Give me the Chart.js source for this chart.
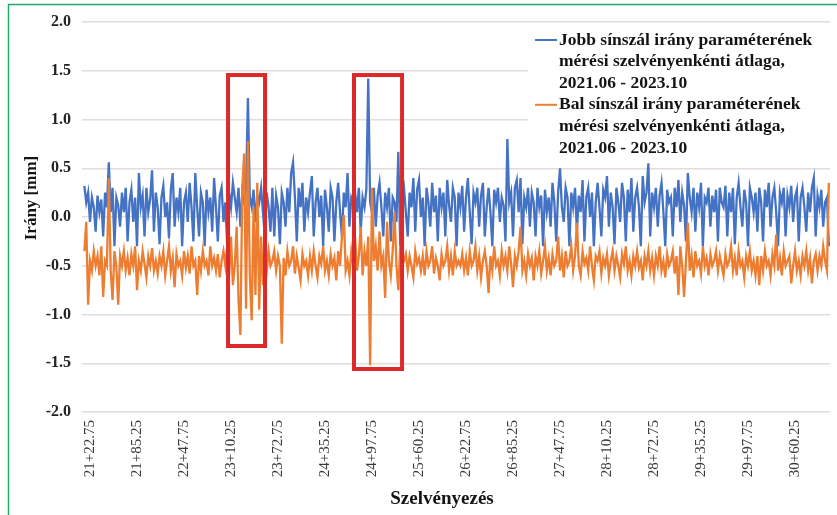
<!DOCTYPE html>
<html><head><meta charset="utf-8">
<script src="https://cdn.jsdelivr.net/npm/chart.js@4/dist/chart.umd.min.js"></script>
<style>html,body{margin:0;padding:0;background:#fff;}#wrap{position:relative;width:837px;height:515px;}canvas{display:block;}</style>
</head><body><div id="wrap"><canvas id="c" width="837" height="515"></canvas></div>
<script>
// Tick labels of the chainage axis (km+m style: "21+22.75" = 2122.75 m)
const tickLabels = ["21+22.75","21+85.25","22+47.75","23+10.25","23+72.75","24+35.25","24+97.75","25+60.25","26+22.75","26+85.25","27+47.75","28+10.25","28+72.75","29+35.25","29+97.75","30+60.25"];
// Measurement sections: first section chainage and section length (m)
const chainageStart = 2115.25;
const chainageStep = 2.5;
// Series names (legend lines)
const seriesNames = [
  ["Jobb sínszál irány paraméterének","mérési szelvényenkénti átlaga,","2021.06 - 2023.10"],
  ["Bal sínszál irány paraméterének","mérési szelvényenkénti átlaga,","2021.06 - 2023.10"]
];
// Right rail (Jobb) values [mm]
const rightRail = [
0.32,0.15,0.25,-0.05,0.2,0.1,-0.15,0.22,0.05,0.18,-0.2,0.25,0.1,0.56,0.05,0.3,-0.3,0.2,0.12,-0.1,
0.25,0.05,0.3,-0.25,0.15,0.28,-0.05,0.2,-0.3,0.45,0.1,0.22,-0.2,0.3,0.05,0.18,0.48,-0.15,0.25,0.1,
-0.28,0.2,0.32,0.0,0.15,-0.22,0.28,0.45,-0.1,0.2,0.05,0.3,-0.3,0.15,0.25,-0.05,0.35,0.1,-0.25,0.45,
0.1,-0.2,0.25,0.15,-0.3,0.28,0.05,0.2,-0.15,0.4,0.1,-0.25,0.22,0.3,-0.05,0.15,-0.3,0.25,0.1,0.35,
0.2,0.05,0.3,-0.1,0.25,0.15,0.3,1.22,0.2,0.1,0.28,-0.05,0.22,0.15,0.3,0.05,-0.2,0.25,0.1,-0.15,
0.3,-0.2,0.22,0.1,-0.28,0.25,0.15,-0.1,0.3,0.05,0.45,0.56,0.2,-0.25,0.3,0.1,0.35,-0.15,0.2,0.05,
0.25,0.42,-0.2,0.15,0.3,0.0,0.22,-0.3,0.28,0.1,-0.15,0.3,0.2,-0.25,0.15,0.35,0.05,-0.2,0.25,0.1,
0.45,-0.1,0.2,0.15,0.25,0.05,0.3,-0.15,0.2,0.1,0.28,1.42,0.15,0.05,0.3,-0.1,0.22,0.35,0.1,-0.2,
0.25,0.1,0.3,-0.25,0.2,0.15,-0.05,0.67,-0.3,0.2,0.3,0.05,-0.2,0.25,0.1,0.4,-0.15,0.28,0.38,0.0,
0.2,-0.3,0.3,0.15,-0.1,0.35,0.05,0.22,-0.25,0.3,0.1,0.25,-0.2,0.38,0.12,-0.05,0.3,0.2,-0.3,0.25,
0.1,0.32,-0.15,0.2,0.4,0.05,-0.28,0.25,0.15,0.3,-0.1,0.22,0.35,-0.2,0.1,0.3,0.05,-0.3,0.28,0.15,
0.3,-0.05,0.2,0.12,-0.25,0.8,0.15,0.25,-0.2,0.3,0.38,0.05,0.4,-0.28,0.2,0.1,0.3,-0.1,0.25,0.15,
-0.2,0.3,0.1,0.22,-0.3,0.28,0.05,0.2,-0.1,0.35,0.15,-0.25,0.25,0.5,0.1,-0.05,0.3,0.2,-0.3,0.25,
0.1,0.3,-0.15,0.22,0.05,0.38,-0.25,0.2,0.3,0.0,0.25,-0.3,0.15,0.35,0.1,-0.2,0.28,0.2,0.42,-0.1,
0.25,0.1,-0.28,0.3,0.15,-0.05,0.35,0.2,-0.25,0.28,0.05,0.4,-0.15,0.2,0.3,0.1,-0.3,0.42,0.15,0.25,
0.55,-0.2,0.25,0.1,0.3,-0.1,0.22,0.35,0.05,-0.3,0.28,0.15,0.2,-0.2,0.3,0.1,0.38,-0.05,0.25,0.12,
-0.25,0.45,0.2,0.05,0.3,-0.15,0.25,0.1,0.35,-0.3,0.2,0.15,0.3,-0.1,0.22,0.05,0.28,-0.25,0.3,0.15,
0.1,0.32,-0.2,0.25,0.05,0.3,-0.28,0.2,0.35,0.1,-0.1,0.28,0.15,-0.3,0.3,0.2,0.05,0.25,-0.15,0.3,
0.15,-0.25,0.28,0.1,0.35,-0.1,0.2,0.3,0.05,-0.3,0.25,0.15,0.3,-0.2,0.22,0.1,0.32,-0.05,0.2,0.28,
-0.25,0.2,0.3,0.1,-0.15,0.25,0.05,0.3,0.4,-0.2,0.22,0.1,0.28,-0.1,0.15,0.2,-0.3
];
// Left rail (Bal) values [mm]
const leftRail = [
-0.35,-0.05,-0.9,-0.45,-0.55,-0.35,-0.5,-0.4,-0.6,-0.3,-0.82,-0.45,-0.5,0.4,-0.55,-0.85,-0.35,-0.5,-0.9,-0.4,
-0.5,-0.35,-0.55,-0.42,-0.6,-0.38,-0.5,-0.3,-0.75,-0.45,-0.55,-0.35,-0.48,-0.62,-0.4,-0.5,-0.32,-0.55,-0.45,-0.58,
-0.4,-0.5,-0.35,-0.6,-0.45,-0.3,-0.55,-0.42,-0.72,-0.38,-0.5,-0.45,-0.6,-0.35,-0.52,-0.4,-0.58,-0.3,-0.5,-0.45,
-0.8,-0.4,-0.55,-0.35,-0.5,-0.45,-0.6,-0.3,-0.5,-0.42,-0.55,-0.38,-0.62,-0.45,-0.35,-0.5,-0.3,-0.6,-0.2,-0.7,
-0.5,-0.1,-0.85,-1.21,0.3,0.65,-0.94,0.78,-0.6,-1.06,0.1,-0.8,0.35,-0.95,-0.2,-0.7,-0.4,-0.55,-0.35,-0.5,
-0.45,-0.35,-0.55,-0.4,-0.5,-1.3,-0.42,-0.6,-0.35,-0.5,-0.45,-0.3,-0.58,-0.4,-0.52,-0.65,-0.38,-0.5,-0.45,-0.6,
-0.4,-0.55,-0.35,-0.5,-0.62,-0.4,-0.48,-0.3,-0.55,-0.45,-0.6,-0.38,-0.5,-0.42,-0.65,-0.35,-0.5,-0.2,0.02,-0.55,
-0.45,-0.6,-0.35,-0.5,-0.2,-0.55,-0.4,-0.1,-0.6,-0.35,-0.5,-0.2,-1.52,0.3,-0.45,-0.3,-0.55,-0.15,-0.5,-0.4,
-0.83,-0.05,-0.45,-0.6,-0.35,0.05,-0.5,-0.75,-0.3,-0.5,-0.45,-0.38,-0.55,-0.4,-0.5,-0.62,-0.35,-0.48,-0.42,-0.55,
-0.4,-0.6,-0.35,-0.5,-0.45,-0.3,-0.58,-0.42,-0.5,-0.65,-0.38,-0.5,-0.45,-0.3,-0.55,-0.4,-0.6,-0.35,-0.5,-0.45,
-0.5,-0.38,-0.55,-0.42,-0.6,-0.35,-0.5,-0.45,-0.3,-0.55,-0.4,-0.62,-0.45,-0.35,-0.5,-0.78,-0.4,-0.55,-0.3,-0.5,
-0.45,-0.6,-0.35,-0.5,-0.4,-0.55,-0.3,-0.48,-0.72,-0.4,-0.5,-0.35,-0.1,-0.55,-0.45,-0.6,-0.38,-0.5,-0.42,-0.65,
-0.4,-0.5,-0.35,-0.58,-0.45,-0.3,-0.55,-0.42,-0.6,-0.38,-0.5,-0.45,-0.2,-0.55,-0.4,-0.62,-0.35,-0.5,-0.45,-0.3,
-0.55,-0.4,-0.06,-0.5,-0.6,-0.35,-0.48,-0.42,-0.55,-0.3,-0.5,-0.65,-0.4,-0.45,-0.35,-0.58,-0.42,-0.5,-0.38,-0.6,
-0.45,-0.35,-0.55,-0.4,-0.5,-0.62,-0.38,-0.48,-0.3,-0.55,-0.45,-0.6,-0.4,-0.5,-0.35,-0.52,-0.45,-0.65,-0.4,-0.5,
-0.35,-0.55,-0.42,-0.6,-0.4,-0.5,-0.3,-0.55,-0.45,-0.62,-0.38,-0.5,-0.45,-0.35,-0.58,-0.4,-0.8,-0.3,-0.5,-0.82,
-0.45,-0.06,-0.55,-0.4,-0.62,-0.35,-0.5,-0.45,-0.58,-0.3,-0.5,-0.42,-0.6,-0.38,-0.5,-0.45,-0.35,-0.55,-0.4,-0.5,
-0.6,-0.38,-0.5,-0.45,-0.3,-0.55,-0.42,-0.6,-0.35,-0.5,-0.45,-0.62,-0.4,-0.5,-0.35,-0.55,-0.45,-0.6,-0.4,-0.7,
-0.4,-0.55,-0.35,-0.5,-0.45,-0.6,-0.38,-0.5,-0.18,-0.55,-0.42,-0.6,-0.35,-0.5,-0.45,-0.4,-0.68,-0.5,-0.35,-0.55,
-0.45,-0.6,-0.4,-0.5,-0.35,-0.55,-0.42,-0.68,-0.45,-0.38,-0.55,-0.4,-0.5,-0.3,-0.45,-0.55,0.35
];
// Highlighted sections (red frames), in chainage [m] and mm
const highlightFrom = [2306.3, 2473.8];
const highlightTo = [2355.5, 2537.7];
const highlightTop = [1.456, 1.456];
const highlightBottom = [-1.323, -1.559];

const FONT = '"Liberation Serif", "Times New Roman", serif';
const tickPositions = tickLabels.map(s => { const p = s.split('+'); return Number(p[0]) * 100 + Number(p[1]); });
const chainage = rightRail.map((_, i) => chainageStart + i * chainageStep);
const colors = ['#4472c4', '#ed7d31'];

const decorPlugin = {
  id: 'decor',
  beforeDraw(chart) {
    const ctx = chart.ctx;
    ctx.save();
    ctx.strokeStyle = '#22a86c';
    ctx.lineWidth = 1.5;
    ctx.beginPath();
    ctx.moveTo(8.5, 515); ctx.lineTo(8.5, 4.5); ctx.lineTo(837, 4.5);
    ctx.stroke();
    ctx.restore();
  },
  afterDatasetsDraw(chart) {
    const ctx = chart.ctx, xs = chart.scales.x, ys = chart.scales.y;
    ctx.save();
    // red frames
    ctx.strokeStyle = '#dc2a2a';
    ctx.lineWidth = 4;
    for (let k = 0; k < highlightFrom.length; k++) {
      const x1 = xs.getPixelForValue(highlightFrom[k]);
      const x2 = xs.getPixelForValue(highlightTo[k]);
      const y1 = ys.getPixelForValue(highlightTop[k]);
      const y2 = ys.getPixelForValue(highlightBottom[k]);
      ctx.strokeRect(x1, y1, x2 - x1, y2 - y1);
    }
    // legend
    const lx = 528, ly = 26;
    ctx.fillStyle = '#ffffff';
    ctx.fillRect(lx, ly, 304, 134);
    ctx.font = 'bold 17.5px ' + FONT;
    ctx.textBaseline = 'middle';
    ctx.textAlign = 'left';
    const lineH = 21.6;
    let y = 40;
    seriesNames.forEach((lines, s) => {
      ctx.strokeStyle = colors[s];
      ctx.lineWidth = 2;
      ctx.beginPath(); ctx.moveTo(535, y); ctx.lineTo(557, y); ctx.stroke();
      ctx.fillStyle = '#141414';
      lines.forEach((t, j) => {
        ctx.fillText(t, 559, y + j * lineH);
      });
      y += lines.length * lineH;
    });
    // axis titles
    ctx.fillStyle = '#141414';
    ctx.textAlign = 'center';
    ctx.font = 'bold 19px ' + FONT;
    ctx.fillText('Szelvényezés', 442, 499);
    ctx.font = 'bold 17px ' + FONT;
    ctx.save();
    ctx.translate(32, 198);
    ctx.rotate(-Math.PI / 2);
    ctx.fillText('Irány [mm]', 0, 0);
    ctx.restore();
    ctx.restore();
  }
};

new Chart(document.getElementById('c'), {
  type: 'line',
  data: {
    datasets: [
      { label: seriesNames[0].join(' '), data: rightRail.map((v, i) => ({ x: chainage[i], y: v })),
        borderColor: colors[0], borderWidth: 2.3, pointRadius: 0, tension: 0, order: 2 },
      { label: seriesNames[1].join(' '), data: leftRail.map((v, i) => ({ x: chainage[i], y: v })),
        borderColor: colors[1], borderWidth: 2.3, pointRadius: 0, tension: 0, order: 1 }
    ]
  },
  options: {
    responsive: false, animation: false, devicePixelRatio: 1,
    layout: { padding: { left: 0, right: 7, top: 22, bottom: 0 } },
    plugins: { legend: { display: false }, tooltip: { enabled: false } },
    scales: {
      x: {
        type: 'linear', min: 2112.1, max: 3106.8,
        afterBuildTicks: s => { s.ticks = tickPositions.map(v => ({ value: v })); },
        afterFit: s => { s.height = 103; },
        grid: { display: false, drawTicks: false },
        border: { display: false },
        ticks: {
          autoSkip: false, maxRotation: 90, minRotation: 90, padding: 8,
          color: '#3a3a3a', font: { family: FONT, size: 15 },
          callback: v => { const i = tickPositions.findIndex(p => Math.abs(p - v) < 0.01); return i >= 0 ? tickLabels[i] : ''; }
        }
      },
      y: {
        min: -2, max: 2,
        afterFit: s => { s.width = 82; },
        grid: { color: '#e3dcdc', lineWidth: 1.5, drawTicks: false },
        border: { display: false },
        ticks: { stepSize: 0.5, padding: 11, color: '#222', font: { family: FONT, size: 16, weight: 'bold' },
          callback: v => v.toFixed(1) }
      }
    }
  },
  plugins: [decorPlugin]
});
</script>
</body></html>
